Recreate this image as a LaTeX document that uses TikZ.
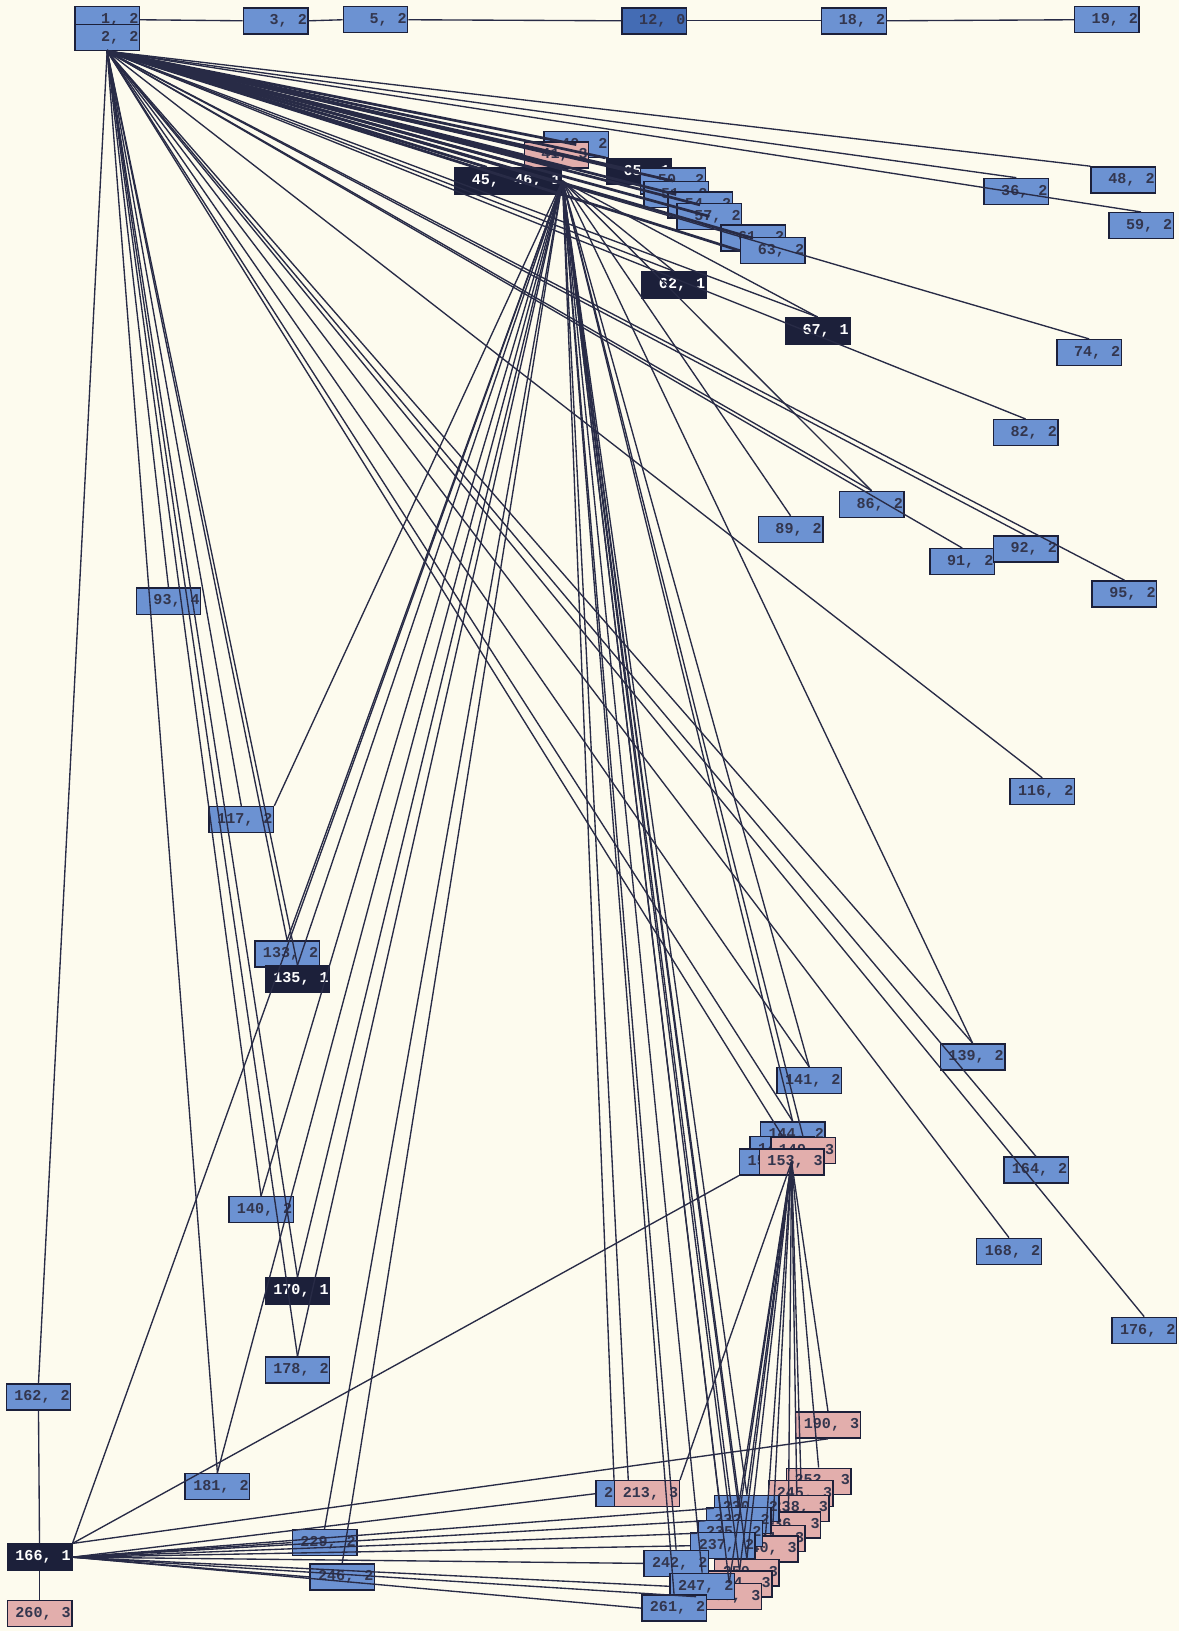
\documentclass[tikz,border=0pt]{standalone}
\usepackage{fontspec}
\setmonofont{Liberation Mono}
\usepackage{tikz}
\usetikzlibrary{arrows.meta}

\definecolor{paper}{RGB}{253,251,238}
\definecolor{navy}{RGB}{28,32,58}
\definecolor{wirecol}{RGB}{40,43,70}
\definecolor{cellblue}{RGB}{108,146,210}
\definecolor{cellbluedeep}{RGB}{68,108,180}
\definecolor{cellpink}{RGB}{226,174,172}

\tikzset{
  cell/.style={draw=navy,line width=1.4pt,minimum height=25pt,inner xsep=1pt,
    inner ysep=0pt,text width=60pt,align=right,
    font=\ttfamily\bfseries\fontsize{14.5}{14.5}\selectfont,text=navy!90},
  bcell/.style={cell,fill=cellblue},
  pcell/.style={cell,fill=cellpink},
  dcell/.style={cell,fill=navy,text=white},
  wire/.style={draw=wirecol,line width=1.3pt},
  band/.style={wire,line width=2.6pt}
}

\begin{document}
\begin{tikzpicture}[x=1pt,y=-1pt]
\fill[paper] (0,0) rectangle (1133,1568);
\useasboundingbox (0,0) rectangle (1133,1568);

% top row
\node[bcell] (n1) at (103,19) {1,~~2};
\node[bcell] (n2) at (103,36) {2,~~2};
\node[bcell] (n3) at (265,20) {3,~~2};
\node[bcell] (n5) at (361,19) {5,~~2};
\node[cell,fill=cellbluedeep] (n12) at (629,20) {12,~~0};
\node[bcell] (n18) at (821,20) {18,~~2};
\node[bcell] (n19) at (1064,19) {19,~~2};

% upper cluster
\node[bcell] (n40) at (554,139) {40,~~2};
\node[pcell] (n41) at (535,149) {41,~~3};
\node[dcell] (n45) at (468,174) {45,~~1};
\node[dcell] (n46) at (509,174) {46,~~1};
\node[dcell] (n65) at (614,165) {65,~~1};
\node[bcell] (n50) at (647,174) {50,~~2};
\node[bcell] (n51) at (650,187) {51,~~2};
\node[bcell] (n54) at (673,197) {54,~~2};
\node[bcell] (n57) at (682,208) {57,~~2};
\node[bcell] (n61) at (724,229) {61,~~2};
\node[bcell] (n63) at (743,241) {63,~~2};
\node[dcell] (n62) at (648,274) {62,~~1};
\node[dcell] (n67) at (786,318) {67,~~1};

% right side
\node[bcell] (n36) at (977,184) {36,~~2};
\node[bcell] (n48) at (1080,173) {48,~~2};
\node[bcell] (n59) at (1097,217) {59,~~2};
\node[bcell] (n74) at (1047,339) {74,~~2};
\node[bcell] (n82) at (986,416) {82,~~2};
\node[bcell] (n86) at (838,485) {86,~~2};
\node[bcell] (n89) at (760,509) {89,~~2};
\node[bcell] (n91) at (925,540) {91,~~2};
\node[bcell] (n92) at (986,528) {92,~~2};
\node[bcell] (n95) at (1081,571) {95,~~2};
\node[bcell] (n116) at (1002,761) {116,~~2};
\node[bcell] (n139) at (935,1016) {139,~~2};
\node[bcell] (n141) at (778,1039) {141,~~2};
\node[bcell] (n164) at (996,1125) {164,~~2};
\node[bcell] (n168) at (970,1203) {168,~~2};
\node[bcell] (n176) at (1100,1279) {176,~~2};

% 153 stack
\node[bcell] (n144) at (762,1091) {144,~~2};
\node[bcell] (n147) at (752,1105) {147,~~2};
\node[pcell] (n149) at (772,1106) {149,~~3};
\node[bcell] (n150) at (742,1117) {150,~~2};
\node[pcell] (n153) at (761,1117) {153,~~3};

% left column
\node[bcell] (n93) at (162,578) {93,~~4};
\node[bcell] (n117) at (232,788) {117,~~2};
\node[bcell] (n133) at (276,917) {133,~~2};
\node[dcell] (n135) at (286,941) {135,~~1};
\node[bcell] (n140) at (251,1163) {140,~~2};
\node[dcell] (n170) at (286,1241) {170,~~1};
\node[bcell] (n178) at (286,1317) {178,~~2};
\node[bcell] (n162) at (37,1343) {162,~~2};
\node[bcell] (n181) at (209,1429) {181,~~2};
\node[dcell] (n166) at (38,1497) {166,~~1};
\node[pcell] (n260) at (38,1551) {260,~~3};
\node[bcell] (n229) at (312,1483) {229,~~2};
\node[bcell] (n246) at (329,1516) {246,~~2};

% lower cluster
\node[pcell] (n190) at (796,1370) {190,~~3};
\node[bcell] (n212) at (604,1436) {212,~~2};
\node[pcell] (n213) at (622,1436) {213,~~3};
\node[pcell] (nP1) at (787,1424) {252,~~3};
\node[pcell] (nP2) at (770,1436) {245,~~3};
\node[pcell] (nP3) at (766,1450) {238,~~3};
\node[pcell] (nP4) at (758,1466) {236,~~3};
\node[pcell] (nP5) at (743,1479) {234,~~3};
\node[pcell] (nP6) at (736,1489) {240,~~3};
\node[pcell] (nP7) at (718,1512) {250,~~3};
\node[pcell] (nP8) at (711,1523) {254,~~3};
\node[pcell] (nP9) at (701,1535) {259,~~3};
\node[bcell] (nQ1) at (718,1450) {230,~~2};
\node[bcell] (nQ2) at (710,1462) {232,~~2};
\node[bcell] (nQ3) at (702,1474) {235,~~2};
\node[bcell] (nQ4) at (695,1486) {237,~~2};
\node[bcell] (n242) at (650,1503) {242,~~2};
\node[bcell] (nQ5) at (675,1525) {247,~~2};
\node[bcell] (n261) at (648,1546) {261,~~2};

% edges
\draw[wire] (n1.east) -- (n3.west);
\draw[wire] (n3.east) -- (n5.west);
\draw[wire] (n5.east) -- (n12.west);
\draw[wire] (n12.east) -- (n18.west);
\draw[wire] (n18.east) -- (n19.west);

\foreach \t in {n40.center,n41.center,n41.west,n45.north,n46.north,n46.north east,
  n65.north west,n65.center,n50.center,n51.center,n54.center,n57.center,
  n61.center,n63.west}
  \draw[band] (n2.south) -- (\t);
\foreach \t in {n36,n59,n62,n67,n74,n82,n86,n91,n92,n95,n116,n139,n141,n144,
  n147,n164,n168,n176,n93,n117,n133,n135,n140,n170,n178,n181,n162}
  \draw[wire] (n2.south) -- (\t.north);
\draw[wire] (n2.south) -- (n48.north west);

\foreach \t in {n62,n67,n89,n86,n139,n141,n144,n149,n133,n135,n140,n170,n178,
  n181,n229,n246,n212,nQ1,nQ2,nQ3,nQ4,n242,nQ5,n261,nP7,nP8,nP9}
  \draw[wire] (n46.east) -- (\t.north);
\draw[wire] (n46.east) -- (n117.north east);
\draw[wire] (n46.east) -- (n166.north east);
\draw[wire] (n46.east) -- (n213.north west);

\draw[wire] (n166.north east) -- (n150.south west);
\draw[wire] (n166.north east) -- (n190.south);
\foreach \t in {n212,n229,n246,nQ1,nQ2,nQ3,nQ4,n242,nQ5,n261,nP9}
  \draw[wire] (n166.east) -- (\t.west);
\draw[wire] (n166.south) -- (n260.north);
\draw[wire] (n162.south) -- (n166.north);

\foreach \t in {n190,nP1,nP2,nP3,nP4,nP5,nP6,nP7,nP8,nP9,nQ1,nQ2}
  \draw[wire] (n153.center) -- (\t.north);
\draw[wire] (n153.center) -- (n213.north east);
\end{tikzpicture}
\end{document}
